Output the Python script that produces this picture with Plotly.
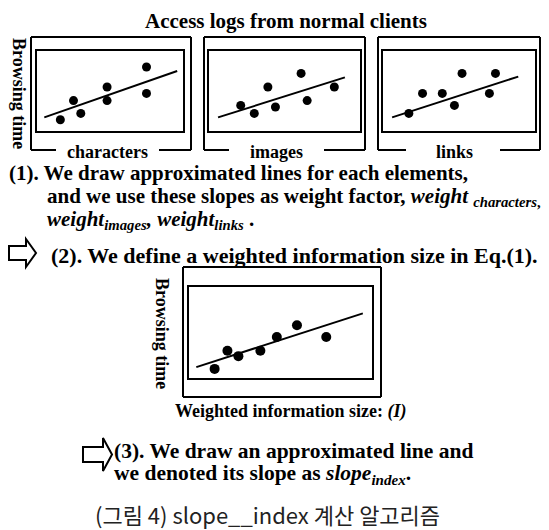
import plotly.graph_objects as go

# ---------------- data ----------------
panel_names = ["characters", "images", "links"]

chars_x = [1.6, 2.5, 3.0, 4.8, 4.8, 7.5, 7.5]
chars_y = [1.4, 3.8, 2.2, 5.5, 3.8, 8.0, 4.7]
chars_line_x = [0.5, 9.6]
chars_line_y = [1.7, 7.5]

images_x = [2.1, 3.0, 3.9, 4.4, 6.1, 6.5, 8.3]
images_y = [3.2, 2.2, 5.5, 3.0, 7.2, 3.8, 5.5]
images_line_x = [0.6, 9.0]
images_line_y = [1.7, 6.7]

links_x = [1.7, 2.6, 3.9, 4.7, 5.2, 7.0, 7.4]
links_y = [2.2, 4.7, 4.7, 3.2, 7.2, 4.7, 7.2]
links_line_x = [0.6, 8.9]
links_line_y = [1.7, 6.8]

weighted_x = [1.4, 2.1, 2.7, 3.9, 4.8, 5.9, 7.5]
weighted_y = [1.0, 3.0, 2.4, 3.0, 4.5, 5.8, 4.5]
weighted_line_x = [0.4, 9.5]
weighted_line_y = [1.2, 7.1]

# page offset (browser body margin) compensation
OX, OY = 8, 8
W, H = 549 - OX, 530 - OY
def px(x):
    return (x - OX) / W
def py(y):
    return 1 - (y - OY) / H

SERIF = "Liberation Serif"

fig = go.Figure()

series = [
    (chars_x, chars_y, chars_line_x, chars_line_y, "x", "y", 9),
    (images_x, images_y, images_line_x, images_line_y, "x2", "y2", 9),
    (links_x, links_y, links_line_x, links_line_y, "x3", "y3", 9),
    (weighted_x, weighted_y, weighted_line_x, weighted_line_y, "x4", "y4", 10),
]
for sx, sy, lx, ly, xa, ya, ms in series:
    fig.add_trace(go.Scatter(x=lx, y=ly, mode="lines", xaxis=xa, yaxis=ya,
                             line=dict(color="black", width=2), showlegend=False))
    fig.add_trace(go.Scatter(x=sx, y=sy, mode="markers", xaxis=xa, yaxis=ya,
                             marker=dict(color="black", size=ms), showlegend=False))

# inner boxes (plot areas)
inner = {
    "": ((37, 183), (51, 131)),
    "2": ((209, 360), (51, 131)),
    "3": ((383, 535), (51, 131)),
    "4": ((189, 372), (287, 378)),
}
axcommon = dict(range=[0, 10], showgrid=False, zeroline=False, showticklabels=False,
                ticks="", showline=True, mirror=True, linecolor="black", linewidth=2,
                fixedrange=True)
layout_axes = {}
for k, ((x0, x1), (y0, y1)) in inner.items():
    layout_axes["xaxis" + k] = dict(axcommon, domain=[px(x0), px(x1)],
                                    anchor="y" + k)
    layout_axes["yaxis" + k] = dict(axcommon, domain=[py(y1), py(y0)],
                                    anchor="x" + k)

shapes = []
def seg(x0, y0, x1, y1, w=2):
    shapes.append(dict(type="line", xref="paper", yref="paper",
                       x0=px(x0), y0=py(y0), x1=px(x1), y1=py(y1),
                       line=dict(color="black", width=w)))

# outer boxes with gaps for labels
outer = [
    (31, 191, 56, 159),
    (204, 365, 229, 324),
    (378, 540, 406, 500),
]
top, bot = 37, 150
for x0, x1, g0, g1 in outer:
    seg(x0, top, x1, top)
    seg(x0, top, x0, bot)
    seg(x1, top, x1, bot)
    seg(x0, bot, g0, bot)
    seg(g1, bot, x1, bot)
# bottom outer box
seg(183, 267, 381, 267)
seg(183, 397, 381, 397)
seg(183, 267, 183, 397)
seg(381, 267, 381, 397)

def arrow(x0, x1, xh, ys0, ys1, yh0, yh1):
    pts = [(x0, ys0), (xh, ys0), (xh, yh0), (x1, (yh0 + yh1) / 2),
           (xh, yh1), (xh, ys1), (x0, ys1)]
    path = "M " + " L ".join(f"{px(a):.5f},{py(b):.5f}" for a, b in pts) + " Z"
    shapes.append(dict(type="path", xref="paper", yref="paper", path=path,
                       line=dict(color="black", width=2), fillcolor="white"))

arrow(9, 36, 26, 246, 260, 239, 267)
arrow(83, 112, 103, 447, 462, 438, 471)

ann = []
def text(t, x, y, size=21, anchor="left", angle=0, family=SERIF, color="black"):
    ann.append(dict(text=t, x=px(x), y=py(y), xref="paper", yref="paper",
                    showarrow=False, xanchor=anchor, yanchor="middle",
                    textangle=angle, borderpad=0,
                    font=dict(family=family, size=size, color=color)))

text("<b>Access logs from normal clients</b>", 286, 21, size=21, anchor="center")
text("<b>Browsing time</b>", 19, 93, size=18, anchor="center", angle=90)
for name, cx in zip(panel_names, [107, 276, 454]):
    text(f"<b>{name}</b>", cx, 152, size=18, anchor="center")

text("<b>(1). We draw approximated lines for each elements,</b>", 8, 173)
text("<b>and we use these slopes as weight factor, <i>weight</i> <sub><i>characters</i>,</sub></b>",
     46, 197)
text("<b><i>weight<sub>images</sub>, weight<sub>links</sub></i> .</b>", 46, 220)
text("<b>(2). We define a weighted information size in Eq.(1).</b>", 50, 255, size=22)

text("<b>Browsing time</b>", 162, 333, size=18, anchor="center", angle=90)
text("<b>Weighted information size: <i>(I)</i></b>", 174, 411, size=18)

text("<b>(3). We draw an approximated line and</b>", 113, 451, size=21.5)
text("<b>we denoted its slope as <i>slope<sub>index</sub></i>.</b>", 113, 474, size=21.5)
text("(그림 4) slope__index 계산 알고리즘", 267, 514, size=22, anchor="center",
     family="Noto Sans CJK KR", color="#222222")

fig.update_layout(
    width=W, height=H, margin=dict(l=0, r=0, t=0, b=0),
    paper_bgcolor="white", plot_bgcolor="white",
    shapes=shapes, annotations=ann, showlegend=False,
    **layout_axes,
)

fig.write_html("out.html")
